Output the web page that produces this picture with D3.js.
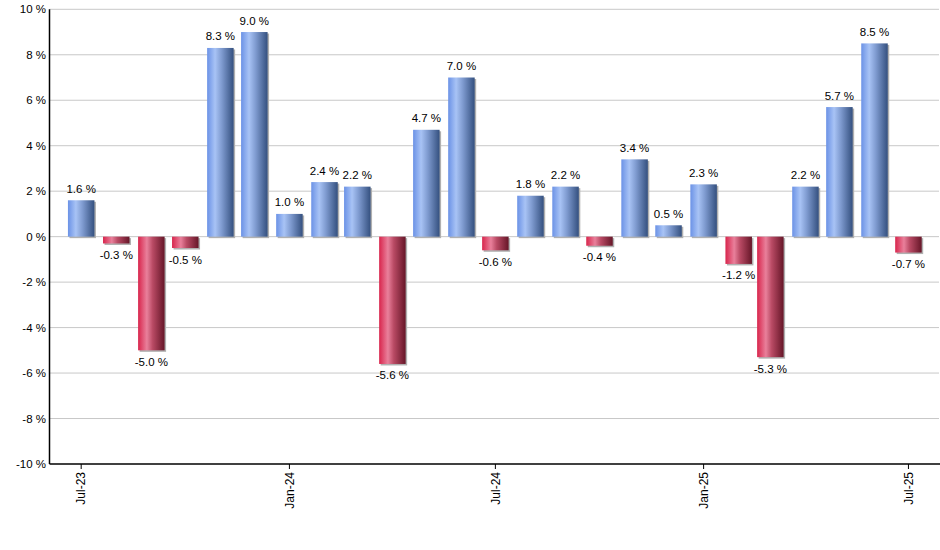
<!DOCTYPE html>
<html><head><meta charset="utf-8">
<script src="https://cdn.jsdelivr.net/npm/d3@7"></script>
<style>body{margin:0;background:#fff}svg{display:block}text{font-family:"Liberation Sans",Arial,sans-serif}</style>
</head><body><svg id="c" width="940" height="550"></svg>
<script>
const months = ["2023-07","2023-08","2023-09","2023-10","2023-11","2023-12","2024-01","2024-02","2024-03","2024-04","2024-05","2024-06","2024-07","2024-08","2024-09","2024-10","2024-11","2024-12","2025-01","2025-02","2025-03","2025-04","2025-05","2025-06","2025-07"];
const values = [1.6,-0.3,-5.0,-0.5,8.3,9.0,1.0,2.4,2.2,-5.6,4.7,7.0,-0.6,1.8,2.2,-0.4,3.4,0.5,2.3,-1.2,-5.3,2.2,5.7,8.5,-0.7];
const yTicks = [-10,-8,-6,-4,-2,0,2,4,6,8,10];
const xTickMonths = ["2023-07","2024-01","2024-07","2025-01","2025-07"];

const parse = d3.utcParse("%Y-%m");
const fmt = d3.utcFormat("%b-%y");
const data = months.map((m,i)=>({date:parse(m), v:values[i]}));

const svg = d3.select("#c");
const L=49.5, R=939, T=9.3, B=464;
const x = d3.scaleUtc().domain([new Date(Date.UTC(2023,5,3)), new Date(Date.UTC(2025,6,28))]).range([L,R]);
const y = d3.scaleLinear().domain([-10,10]).range([B,T]);
const bw = 26.5;

const defs = svg.append("defs");
function grad(id, stops){
  const g = defs.append("linearGradient").attr("id",id).attr("x1","0").attr("x2","1").attr("y1","0").attr("y2","0");
  stops.forEach(s=>g.append("stop").attr("offset",s[0]).attr("stop-color",s[1]));
}
grad("gb",[[0,"#6b92e6"],[0.3,"#a8c3f5"],[0.55,"#7f9bd0"],[1,"#34507f"]]);
grad("gr",[[0,"#d8254c"],[0.33,"#e9809b"],[0.55,"#b94a64"],[1,"#661628"]]);

// gridlines
svg.append("g").selectAll("line").data(yTicks.filter(t=>t!==-10)).join("line")
  .attr("x1",L).attr("x2",R).attr("y1",d=>y(d)).attr("y2",d=>y(d))
  .attr("stroke","#c8c8c8").attr("stroke-width",1);

// y labels
svg.append("g").selectAll("text").data(yTicks).join("text")
  .attr("x",46).attr("y",d=>y(d)).attr("dy","0.35em").attr("text-anchor","end")
  .attr("font-size",11.5).attr("fill","#000").text(d=>d+" %");

// shadows
svg.append("g").selectAll("rect").data(data).join("rect")
  .attr("x",d=>x(d.date)-bw/2+1.5).attr("width",bw)
  .attr("y",d=>Math.min(y(d.v),y(0))+1.5).attr("height",d=>Math.abs(y(d.v)-y(0)))
  .attr("fill","#b0b0b0");
// bars
svg.append("g").selectAll("rect").data(data).join("rect")
  .attr("x",d=>x(d.date)-bw/2).attr("width",bw)
  .attr("y",d=>Math.min(y(d.v),y(0))).attr("height",d=>Math.abs(y(d.v)-y(0)))
  .attr("fill",d=>d.v>=0?"url(#gb)":"url(#gr)");

// value labels
svg.append("g").selectAll("text").data(data).join("text")
  .attr("x",d=>x(d.date)).attr("y",d=>d.v>=0?y(d.v)-7.5:y(d.v)+15.5)
  .attr("text-anchor","middle").attr("font-size",11.5).attr("fill","#000")
  .text(d=>d.v.toFixed(1)+" %");

// axes lines
svg.append("line").attr("x1",L).attr("x2",L).attr("y1",T).attr("y2",B).attr("stroke","#000").attr("stroke-width",1.5);
svg.append("line").attr("x1",L).attr("x2",940).attr("y1",B).attr("y2",B).attr("stroke","#000").attr("stroke-width",1.5);

// x ticks
const xt = svg.append("g").selectAll("g").data(xTickMonths.map(parse)).join("g")
  .attr("transform",d=>`translate(${x(d)},${B})`);
xt.append("line").attr("y1",0).attr("y2",5).attr("stroke","#000");
xt.append("text").attr("transform","rotate(-90)").attr("x",-8).attr("y",0).attr("dy","0.35em")
  .attr("text-anchor","end").attr("font-size",12).attr("fill","#000").text(d=>fmt(d));
</script></body></html>
